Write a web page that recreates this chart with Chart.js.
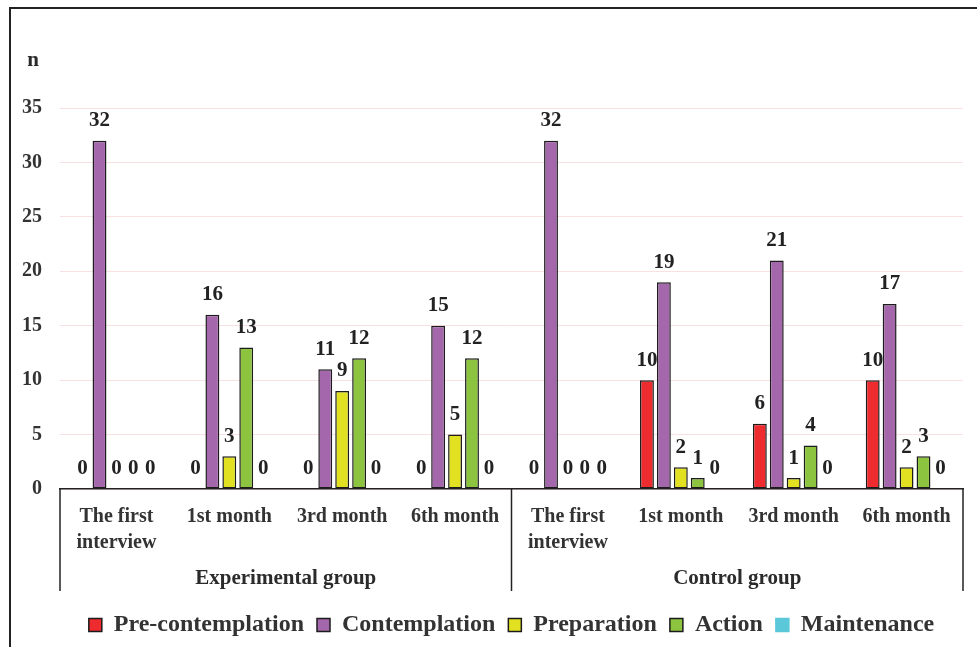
<!DOCTYPE html>
<html>
<head>
<meta charset="utf-8">
<script src="https://cdn.jsdelivr.net/npm/chart.js@4.4.1/dist/chart.umd.min.js"></script>
<style>
  html, body { margin: 0; padding: 0; background: #fff; }
  #wrap { position: relative; width: 977px; height: 647px; overflow: hidden; }
  #frame { position: absolute; left: 9px; top: 7px; width: 1000px; height: 700px;
           border-left: 2px solid #222; border-top: 2px solid #222; }
  #wrap canvas { position: absolute; left: 0; top: 0; }
</style>
</head>
<body>
<div id="wrap">
  <div id="frame"></div>
  <canvas id="stages"></canvas>
</div>
<script>
const categories = [
  ['The first', 'interview'], '1st month', '3rd month', '6th month',
  ['The first', 'interview'], '1st month', '3rd month', '6th month'
];
const groups = ['Experimental group', 'Control group'];
const yTicks = [0, 5, 10, 15, 20, 25, 30, 35];

const preContemplation = [0, 0, 0, 0, 0, 10, 6, 10];
const contemplation    = [32, 16, 11, 15, 32, 19, 21, 17];
const preparation      = [0, 3, 9, 5, 0, 2, 1, 2];
const action           = [0, 13, 12, 12, 0, 1, 4, 3];
const maintenance      = [0, 0, 0, 0, 0, 0, 0, 0];

const serif = '"Liberation Serif", "Times New Roman", serif';
const ink = '#222';

const series = [
  { label: 'Pre-contemplation', data: preContemplation, color: '#EE2B2E' },
  { label: 'Contemplation', data: contemplation, color: '#A567AC' },
  { label: 'Preparation', data: preparation, color: '#E1E021' },
  { label: 'Action', data: action, color: '#8DC43F' },
  { label: 'Maintenance', data: maintenance, color: '#5BC8DA' }
];

/* ---------- value labels above each bar (zeros included) ---------- */
const valueLabels = {
  id: 'valueLabels',
  afterDatasetsDraw(chart) {
    const ctx = chart.ctx;
    ctx.save();
    ctx.font = `bold 21px ${serif}`;
    ctx.fillStyle = ink;
    ctx.textAlign = 'center';
    ctx.textBaseline = 'middle';
    chart.data.datasets.forEach((ds, i) => {
      chart.getDatasetMeta(i).data.forEach((bar, j) => {
        ctx.fillText(String(ds.data[j]), bar.x, bar.y - 20);
      });
    });
    ctx.restore();
  }
};

/* ---------- group separators, group names and the "n" label ---------- */
const groupAxis = {
  id: 'groupAxis',
  afterDraw(chart) {
    const ctx = chart.ctx;
    const x = chart.scales.x;
    const y = chart.scales.y;
    const per = categories.length / groups.length;
    const edges = [x.left];
    for (let g = 1; g < groups.length; g++) {
      edges.push((x.getPixelForValue(g * per - 1) + x.getPixelForValue(g * per)) / 2);
    }
    edges.push(x.right);

    ctx.save();
    ctx.strokeStyle = '#222';
    ctx.lineWidth = 1.5;
    edges.forEach(px => {
      ctx.beginPath();
      ctx.moveTo(px, x.top);
      ctx.lineTo(px, x.top + 102);
      ctx.stroke();
    });

    ctx.font = `bold 21px ${serif}`;
    ctx.fillStyle = '#2b2b2b';
    ctx.textAlign = 'center';
    ctx.textBaseline = 'middle';
    groups.forEach((name, g) => {
      ctx.fillText(name, (edges[g] + edges[g + 1]) / 2, x.top + 90);
    });

    ctx.fillText('n', y.right - 27, y.getPixelForValue(yTicks[yTicks.length - 1]) - 47);
    ctx.restore();
  }
};

new Chart(document.getElementById('stages'), {
  type: 'bar',
  data: {
    labels: categories,
    datasets: series.map(s => ({
      label: s.label,
      data: s.data,
      backgroundColor: s.color,
      borderColor: s.label === 'Maintenance' ? s.color : '#1c1c1c',
      borderWidth: 1.5,
      borderSkipped: false,
      categoryPercentage: 0.75,
      barPercentage: 0.82
    }))
  },
  options: {
    responsive: true,
    maintainAspectRatio: false,
    animation: false,
    layout: { padding: { top: 108, right: 14, left: 0, bottom: 0 } },
    plugins: {
      tooltip: { enabled: false },
      legend: {
        position: 'bottom',
        fullSize: false,
        labels: {
          boxWidth: 13,
          boxHeight: 13,
          padding: 13,
          color: '#333',
          font: { family: serif, size: 24, weight: 'bold' }
        }
      }
    },
    scales: {
      x: {
        grid: { display: false, drawTicks: false },
        border: { display: true, color: '#222', width: 1.5 },
        ticks: {
          padding: 15,
          color: '#333',
          maxRotation: 0,
          autoSkip: false,
          font: { family: serif, size: 20, weight: 'bold', lineHeight: 1.3 }
        },
        afterFit(scale) { scale.height = 111; }
      },
      y: {
        min: yTicks[0],
        max: yTicks[yTicks.length - 1],
        grid: { color: '#F9E1E2', lineWidth: 1, drawTicks: false },
        border: { display: false },
        ticks: {
          stepSize: yTicks[1] - yTicks[0],
          padding: 18,
          color: '#333',
          font: { family: serif, size: 20, weight: 'bold' }
        },
        afterFit(scale) { scale.width = 60; }
      }
    }
  },
  plugins: [valueLabels, groupAxis]
});
</script>
</body>
</html>
